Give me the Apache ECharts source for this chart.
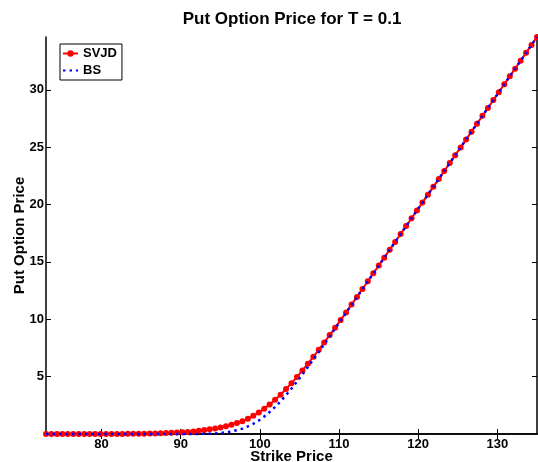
<!DOCTYPE html>
<html>
<head>
<meta charset="utf-8">
<script src="https://cdn.jsdelivr.net/npm/echarts@6/dist/echarts.min.js"></script>
<style>
html,body{margin:0;padding:0;background:#fff;}
#chart{width:538px;height:462px;}
</style>
</head>
<body>
<div id="chart"></div>
<script>
const titleText = 'Put Option Price for T = 0.1';
const xName = 'Strike Price';
const yName = 'Put Option Price';
const seriesNames = ['SVJD', 'BS'];
const xTicks = [80, 90, 100, 110, 120, 130];
const yTicks = [5, 10, 15, 20, 25, 30];

const strikes = [73.00, 73.69, 74.38, 75.07, 75.76, 76.44, 77.13, 77.82, 78.51, 79.20,
  79.89, 80.58, 81.27, 81.96, 82.64, 83.33, 84.02, 84.71, 85.40, 86.09,
  86.78, 87.47, 88.16, 88.84, 89.53, 90.22, 90.91, 91.60, 92.29, 92.98,
  93.67, 94.36, 95.04, 95.73, 96.42, 97.11, 97.80, 98.49, 99.18, 99.87,
  100.56, 101.24, 101.93, 102.62, 103.31, 104.00, 104.69, 105.38, 106.07, 106.76,
  107.44, 108.13, 108.82, 109.51, 110.20, 110.89, 111.58, 112.27, 112.96, 113.64,
  114.33, 115.02, 115.71, 116.40, 117.09, 117.78, 118.47, 119.16, 119.84, 120.53,
  121.22, 121.91, 122.60, 123.29, 123.98, 124.67, 125.36, 126.04, 126.73, 127.42,
  128.11, 128.80, 129.49, 130.18, 130.87, 131.56, 132.24, 132.93, 133.62, 134.31, 135.00];

const svjd = [0.00, 0.00, 0.00, 0.00, 0.00, 0.00, 0.00, 0.01, 0.01, 0.01,
  0.01, 0.01, 0.01, 0.01, 0.01, 0.02, 0.02, 0.03, 0.03, 0.04,
  0.05, 0.06, 0.08, 0.10, 0.12, 0.15, 0.18, 0.22, 0.29, 0.35,
  0.41, 0.48, 0.57, 0.67, 0.80, 0.95, 1.12, 1.33, 1.58, 1.87,
  2.21, 2.58, 2.99, 3.43, 3.92, 4.43, 4.97, 5.54, 6.13, 6.73,
  7.34, 7.98, 8.62, 9.27, 9.93, 10.60, 11.28, 11.95, 12.64, 13.31,
  14.00, 14.69, 15.37, 16.06, 16.74, 17.43, 18.12, 18.80, 19.48, 20.17,
  20.86, 21.54, 22.23, 22.92, 23.61, 24.30, 24.98, 25.66, 26.35, 27.04,
  27.73, 28.41, 29.10, 29.79, 30.48, 31.17, 31.84, 32.53, 33.22, 33.91, 34.60];

const bs = [0.00, 0.00, 0.00, 0.00, 0.00, 0.00, 0.00, 0.00, 0.00, 0.00,
  0.00, 0.00, 0.00, 0.00, 0.00, 0.00, 0.00, 0.00, 0.00, 0.00,
  0.00, 0.00, 0.00, 0.00, 0.00, 0.00, 0.00, 0.00, 0.01, 0.02,
  0.03, 0.05, 0.09, 0.14, 0.22, 0.33, 0.47, 0.66, 0.89, 1.18,
  1.52, 1.91, 2.36, 2.85, 3.39, 3.96, 4.56, 5.19, 5.84, 6.49,
  7.15, 7.83, 8.51, 9.19, 9.87, 10.56, 11.25, 11.93, 12.62, 13.30,
  13.99, 14.68, 15.36, 16.05, 16.74, 17.43, 18.11, 18.80, 19.48, 20.17,
  20.86, 21.54, 22.23, 22.92, 23.61, 24.30, 24.98, 25.66, 26.35, 27.04,
  27.73, 28.41, 29.10, 29.79, 30.48, 31.17, 31.84, 32.53, 33.22, 33.91, 34.60];

const xMin = 73, xMax = 135, yMin = 0, yMax = 34.6;

const FONT = "'Liberation Sans', Arial, Helvetica, sans-serif";
const pairs = (ys) => strikes.map((k, i) => [k, ys[i]]);

const chart = echarts.init(document.getElementById('chart'), null, {renderer: 'canvas'});
const axisLineStyle = {color: '#000', width: 1.5};
const labelStyle = {color: '#000', fontFamily: FONT, fontWeight: 'bold', fontSize: 13};
const tickStyle = {color: '#000', width: 1};

chart.setOption({
  animation: false,
  backgroundColor: '#fff',
  graphic: [{
    type: 'text', x: 292, y: 11,
    style: {text: titleText, fill: '#000', font: "bold 17px 'Liberation Sans', Arial, sans-serif", textAlign: 'center', textVerticalAlign: 'top'}
  }],
  grid: {left: 46, top: 37, width: 491, height: 397, containLabel: false, outerBoundsMode: 'none'},
  legend: {
    orient: 'vertical', left: 60, top: 44,
    data: [
      {name: seriesNames[0]},
      {name: seriesNames[1], itemStyle: {color: 'rgba(0,0,0,0)', borderColor: 'rgba(0,0,0,0)', borderWidth: 0}}
    ],
    itemWidth: 15, itemHeight: 8, itemGap: 4,
    padding: [3, 5, 3, 2],
    borderColor: '#000', borderWidth: 1, borderRadius: 0,
    backgroundColor: '#fff',
    textStyle: {color: '#000', fontFamily: FONT, fontWeight: 'bold', fontSize: 13}
  },
  xAxis: [{
    type: 'value', min: xMin, max: xMax, position: 'bottom',
    name: xName, nameLocation: 'middle', nameGap: 15, nameMoveOverlap: false,
    nameTextStyle: {color: '#000', fontFamily: FONT, fontWeight: 'bold', fontSize: 15},
    axisLine: {show: true, lineStyle: axisLineStyle},
    axisTick: {show: true, inside: true, length: 5, customValues: xTicks, lineStyle: tickStyle},
    axisLabel: Object.assign({customValues: xTicks, margin: 4}, labelStyle),
    splitLine: {show: false}
  }, {
    type: 'value', min: xMin, max: xMax, position: 'top',
    axisLine: {show: true, lineStyle: axisLineStyle},
    axisTick: {show: true, inside: true, length: 5, customValues: xTicks, lineStyle: tickStyle},
    axisLabel: {show: false},
    splitLine: {show: false}
  }],
  yAxis: [{
    type: 'value', min: yMin, max: yMax, position: 'left',
    name: yName, nameLocation: 'middle', nameGap: 19, nameRotate: 90, nameMoveOverlap: false,
    nameTextStyle: {color: '#000', fontFamily: FONT, fontWeight: 'bold', fontSize: 15},
    axisLine: {show: true, lineStyle: axisLineStyle},
    axisTick: {show: true, inside: true, length: 5, customValues: yTicks, lineStyle: tickStyle},
    axisLabel: Object.assign({customValues: yTicks, margin: 2}, labelStyle),
    splitLine: {show: false}
  }, {
    type: 'value', min: yMin, max: yMax, position: 'right',
    axisLine: {show: true, lineStyle: axisLineStyle},
    axisTick: {show: true, inside: true, length: 5, customValues: yTicks, lineStyle: tickStyle},
    axisLabel: {show: false},
    splitLine: {show: false}
  }],
  series: [{
    name: seriesNames[0], type: 'line', xAxisIndex: 0, yAxisIndex: 0,
    data: pairs(svjd),
    symbol: 'circle', symbolSize: 6, showSymbol: true, showAllSymbol: true,
    itemStyle: {color: '#ff0000'},
    lineStyle: {color: '#ff0000', width: 2},
    clip: false, z: 2
  }, {
    name: seriesNames[1], type: 'line', xAxisIndex: 0, yAxisIndex: 0,
    data: pairs(bs),
    symbol: 'none', showSymbol: false,
    itemStyle: {color: '#0000ff'},
    lineStyle: {color: '#0000ff', width: 2.5, type: [2.5, 4]},
    clip: false, z: 3
  }]
});
</script>
</body>
</html>
